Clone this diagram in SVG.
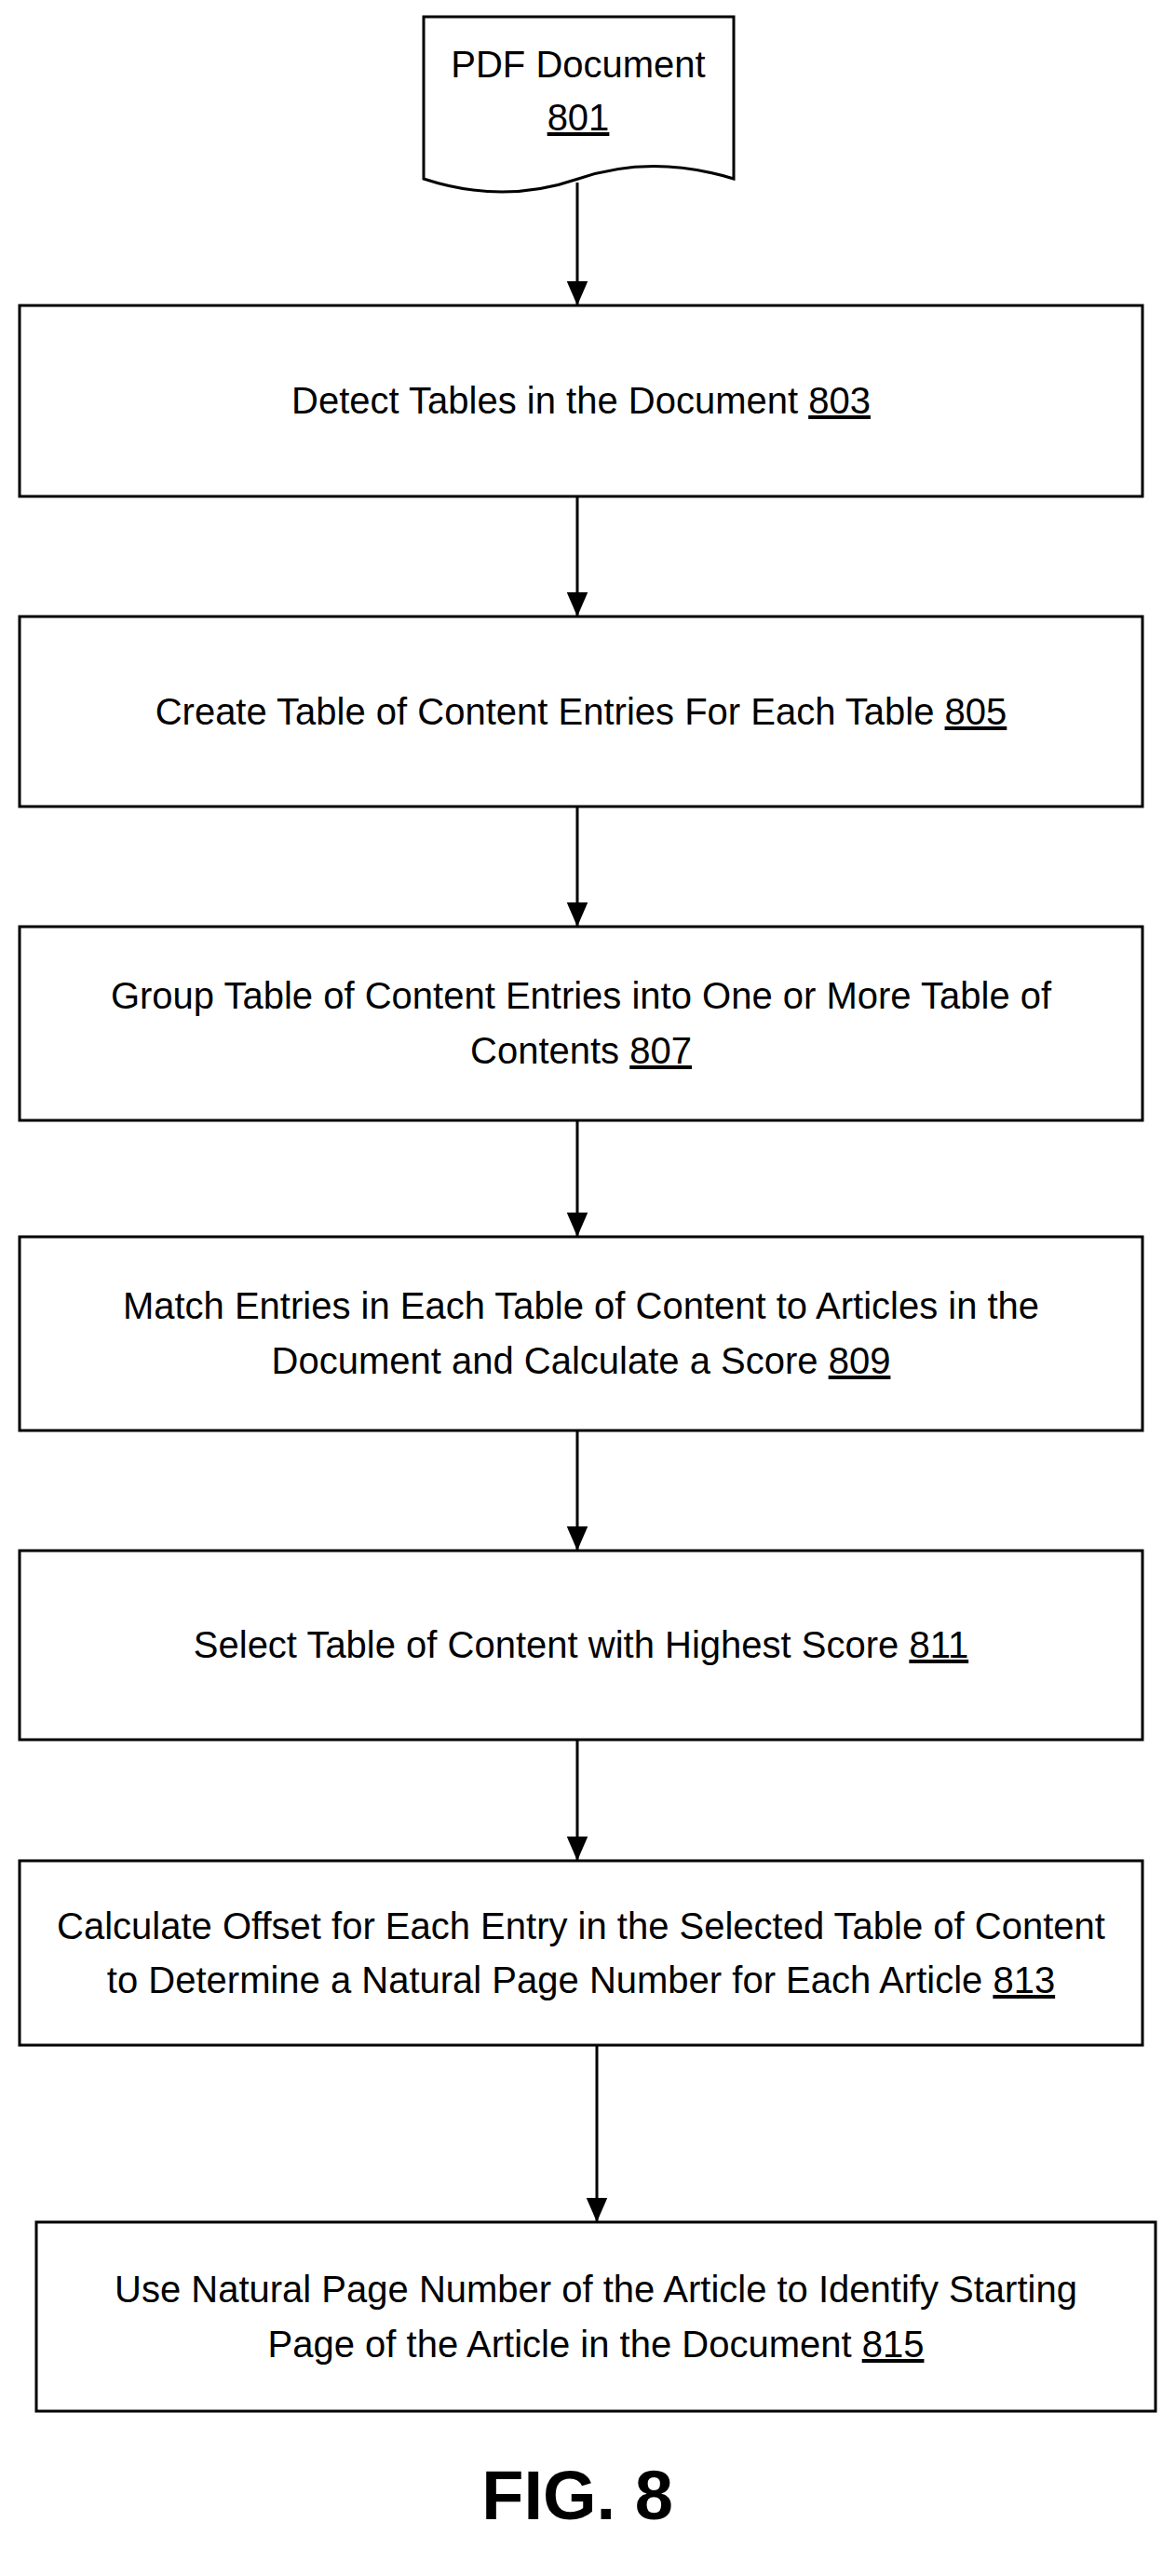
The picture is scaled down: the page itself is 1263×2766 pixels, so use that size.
<svg xmlns="http://www.w3.org/2000/svg" width="1263" height="2766" viewBox="0 0 1263 2766">
<style>
.b{fill:#fff;stroke:#000;stroke-width:3}
.t{font-family:"Liberation Sans",Arial,sans-serif;font-size:40px;text-anchor:middle;fill:#000}
.c line{stroke:#000;stroke-width:3;marker-end:url(#a)}
</style>
<defs><marker id="a" markerWidth="26" markerHeight="30" refX="30" refY="13" orient="auto" markerUnits="userSpaceOnUse" viewBox="0 0 30 26"><path d="M0,0 L30,13 L0,26z" fill="#000"/></marker></defs>
<rect width="1263" height="2766" fill="#fff"/>
<g id="n801"><path class="b" d="M455,18 H788 V192 Q700,165 621,192 Q540,220 455,192 Z"/><text class="t" x="621" y="83">PDF Document</text><text class="t" x="621" y="140" text-decoration="underline">801</text></g>
<g id="n803"><rect class="b" x="21" y="328" width="1206" height="205"/><text class="t" x="624" y="444">Detect Tables in the Document <tspan text-decoration="underline">803</tspan></text></g>
<g id="n805"><rect class="b" x="21" y="662" width="1206" height="204"/><text class="t" x="624" y="778">Create Table of Content Entries For Each Table <tspan text-decoration="underline">805</tspan></text></g>
<g id="n807"><rect class="b" x="21" y="995" width="1206" height="208"/><text class="t" x="624" y="1083">Group Table of Content Entries into One or More Table of</text><text class="t" x="624" y="1142">Contents <tspan text-decoration="underline">807</tspan></text></g>
<g id="n809"><rect class="b" x="21" y="1328" width="1206" height="208"/><text class="t" x="624" y="1416">Match Entries in Each Table of Content to Articles in the</text><text class="t" x="624" y="1475">Document and Calculate a Score <tspan text-decoration="underline">809</tspan></text></g>
<g id="n811"><rect class="b" x="21" y="1665" width="1206" height="203"/><text class="t" x="624" y="1780">Select Table of Content with Highest Score <tspan text-decoration="underline">811</tspan></text></g>
<g id="n813"><rect class="b" x="21" y="1998" width="1206" height="198"/><text class="t" x="624" y="2082">Calculate Offset for Each Entry in the Selected Table of Content</text><text class="t" x="624" y="2140">to Determine a Natural Page Number for Each Article <tspan text-decoration="underline">813</tspan></text></g>
<g id="n815"><rect class="b" x="39" y="2386" width="1202" height="203"/><text class="t" x="640" y="2472">Use Natural Page Number of the Article to Identify Starting</text><text class="t" x="640" y="2531">Page of the Article in the Document <tspan text-decoration="underline">815</tspan></text></g>
<g class="c">
<line x1="620" y1="196" x2="620" y2="328"/>
<line x1="620" y1="533" x2="620" y2="662"/>
<line x1="620" y1="866" x2="620" y2="995"/>
<line x1="620" y1="1203" x2="620" y2="1328"/>
<line x1="620" y1="1536" x2="620" y2="1665"/>
<line x1="620" y1="1868" x2="620" y2="1998"/>
<line x1="641" y1="2196" x2="641" y2="2386"/>
</g>
<text x="620" y="2705" style="font-family:'Liberation Sans',Arial,sans-serif;font-size:74px;font-weight:bold;text-anchor:middle">FIG. 8</text>
</svg>
